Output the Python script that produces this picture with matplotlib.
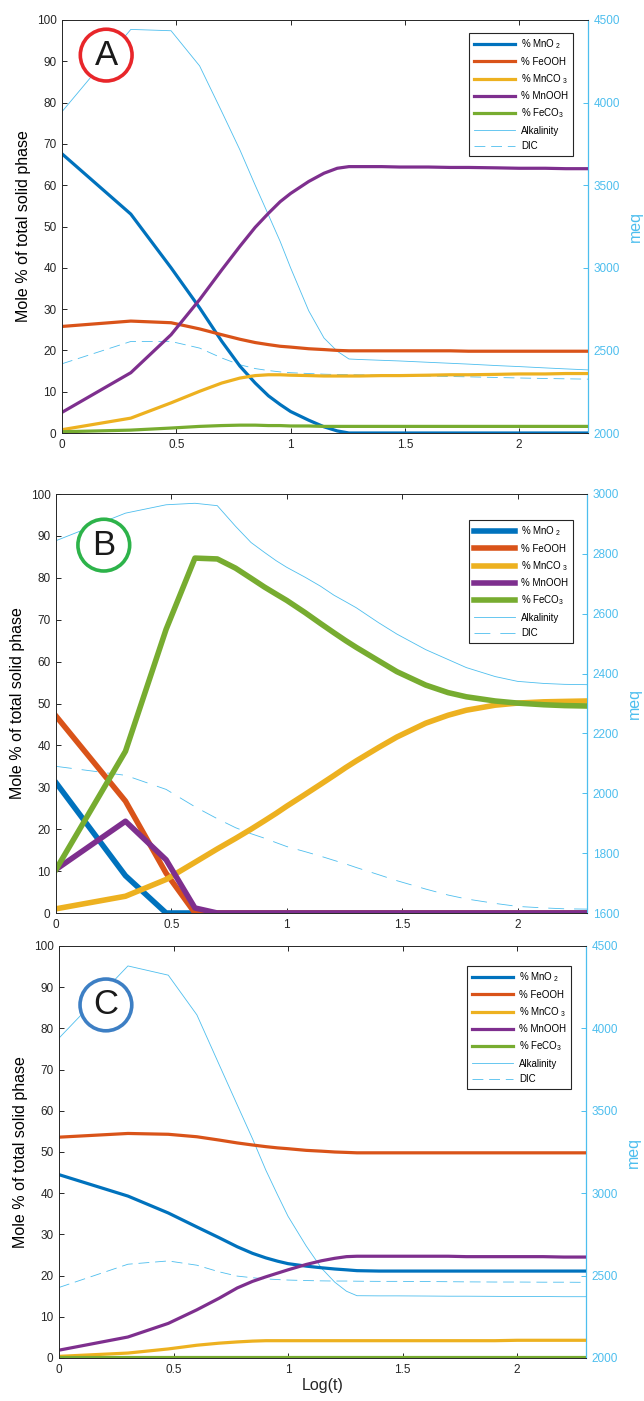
import numpy as np
import matplotlib
matplotlib.use("Agg")
import matplotlib.pyplot as plt

plt.rcParams['font.family'] = ['Liberation Sans', 'DejaVu Sans']
plt.rcParams['mathtext.default'] = 'regular'

# time steps (x axis is log10 of these)
t = [1, 2, 3, 4, 5, 6, 7, 8, 9, 10, 12, 14, 16, 18, 20, 25, 30, 40, 50, 60, 80, 100, 130, 160, 200]

# panel A
a_mno2 = [67.6, 53.0, 40.0, 30.3, 22.2, 16.2, 12.1, 9.0, 6.9, 5.2, 3.1, 1.5, 0.5, 0, 0, 0, 0, 0, 0, 0, 0, 0, 0, 0, 0]
a_feooh = [25.8, 27.1, 26.7, 25.2, 23.8, 22.7, 21.9, 21.4, 21.0, 20.8, 20.4, 20.2, 20.0, 19.9, 19.9, 19.9, 19.9, 19.9, 19.9, 19.8, 19.8, 19.8, 19.8, 19.8, 19.8]
a_mnco3 = [0.8, 3.6, 7.3, 10.1, 12.1, 13.3, 13.9, 14.1, 14.1, 14.0, 13.9, 13.8, 13.8, 13.8, 13.8, 13.9, 13.9, 14.0, 14.1, 14.1, 14.2, 14.3, 14.3, 14.4, 14.4]
a_mnooh = [5.0, 14.6, 23.8, 32.3, 39.5, 45.2, 49.8, 53.2, 56.0, 58.0, 60.9, 62.9, 64.1, 64.5, 64.5, 64.5, 64.4, 64.4, 64.3, 64.3, 64.2, 64.1, 64.1, 64.0, 64.0]
a_feco3 = [0.3, 0.7, 1.2, 1.6, 1.8, 1.9, 1.9, 1.8, 1.8, 1.7, 1.7, 1.6, 1.6, 1.6, 1.6, 1.6, 1.6, 1.6, 1.6, 1.6, 1.6, 1.6, 1.6, 1.6, 1.6]
a_alk = [3945, 4443, 4435, 4222, 3945, 3714, 3500, 3320, 3160, 3000, 2740, 2575, 2495, 2448, 2445, 2440, 2436, 2428, 2422, 2417, 2408, 2402, 2394, 2388, 2382]
a_dic = [2419, 2554, 2554, 2514, 2454, 2413, 2390, 2378, 2370, 2365, 2360, 2356, 2354, 2353, 2352, 2350, 2348, 2345, 2342, 2340, 2336, 2333, 2330, 2328, 2326]

# panel B
b_mno2 = [31.1, 8.9, 0, 0, 0, 0, 0, 0, 0, 0, 0, 0, 0, 0, 0, 0, 0, 0, 0, 0, 0, 0, 0, 0, 0]
b_feooh = [47.0, 26.7, 9.5, 0, 0, 0, 0, 0, 0, 0, 0, 0, 0, 0, 0, 0, 0, 0, 0, 0, 0, 0, 0, 0, 0]
b_mnco3 = [1.0, 4.0, 8.0, 12.1, 15.3, 17.8, 20.0, 22.0, 23.8, 25.5, 28.3, 30.7, 32.8, 34.7, 36.3, 39.5, 42.0, 45.3, 47.2, 48.4, 49.6, 50.1, 50.4, 50.5, 50.6]
b_mnooh = [10.4, 21.9, 12.7, 1.2, 0, 0, 0, 0, 0, 0, 0, 0, 0, 0, 0, 0, 0, 0, 0, 0, 0, 0, 0, 0, 0]
b_feco3 = [10.4, 38.6, 67.7, 84.7, 84.5, 82.3, 79.9, 77.8, 76.1, 74.6, 71.7, 69.1, 66.9, 65.0, 63.4, 60.2, 57.6, 54.4, 52.6, 51.6, 50.6, 50.1, 49.7, 49.5, 49.4]
b_alk = [2844, 2936, 2964, 2969, 2961, 2892, 2838, 2805, 2777, 2755, 2722, 2692, 2662, 2640, 2620, 2570, 2532, 2480, 2447, 2420, 2390, 2374, 2367, 2364, 2363]
b_dic = [2090, 2060, 2013, 1955, 1915, 1885, 1865, 1850, 1835, 1822, 1805, 1790, 1776, 1764, 1752, 1728, 1708, 1680, 1660, 1647, 1632, 1622, 1617, 1614, 1613]

# panel C
c_mno2 = [44.5, 39.3, 35.2, 31.8, 29.2, 27.0, 25.4, 24.3, 23.5, 22.9, 22.3, 21.9, 21.6, 21.4, 21.2, 21.1, 21.1, 21.1, 21.1, 21.1, 21.1, 21.1, 21.1, 21.1, 21.1]
c_feooh = [53.6, 54.5, 54.3, 53.7, 52.9, 52.2, 51.7, 51.3, 51.0, 50.8, 50.4, 50.2, 50.0, 49.9, 49.8, 49.8, 49.8, 49.8, 49.8, 49.8, 49.8, 49.8, 49.8, 49.8, 49.8]
c_mnco3 = [0.4, 1.2, 2.2, 3.1, 3.6, 3.9, 4.1, 4.2, 4.2, 4.2, 4.2, 4.2, 4.2, 4.2, 4.2, 4.2, 4.2, 4.2, 4.2, 4.2, 4.2, 4.3, 4.3, 4.3, 4.3]
c_mnooh = [1.9, 5.1, 8.4, 11.7, 14.5, 17.0, 18.6, 19.7, 20.6, 21.4, 22.7, 23.6, 24.2, 24.6, 24.7, 24.7, 24.7, 24.7, 24.7, 24.6, 24.6, 24.6, 24.6, 24.5, 24.5]
c_feco3 = [0.3] * 25
c_alk = [3941, 4379, 4323, 4082, 3781, 3536, 3330, 3140, 2990, 2860, 2680, 2545, 2460, 2405, 2378, 2377, 2377, 2376, 2375, 2375, 2374, 2373, 2373, 2372, 2372]
c_dic = [2428, 2569, 2589, 2563, 2523, 2497, 2487, 2480, 2476, 2473, 2470, 2468, 2467, 2467, 2466, 2465, 2465, 2464, 2463, 2462, 2461, 2461, 2460, 2460, 2459]

labels = ['% MnO$_{\\ 2}$', '% FeOOH', '% MnCO$_{\\ 3}$', '% MnOOH', '% FeCO$_3$', 'Alkalinity', 'DIC']
colors = ['#0072BD', '#D95319', '#EDB120', '#7E2F8E', '#77AC30']
cyan = '#4DBEEE'
dark = '#262626'

panels = [
    dict(solids=[a_mno2, a_feooh, a_mnco3, a_mnooh, a_feco3], alk=a_alk, dic=a_dic,
         rect=[62/644, 968/1401, 526/644, 413/1401], ylim2=(2000, 4500), step2=500,
         lw=2.3, dash=(13, 7), letter='A', ring='#E8262A', lpos=(0.084, 0.915), leg=(0.981, 0.981)),
    dict(solids=[b_mno2, b_feooh, b_mnco3, b_mnooh, b_feco3], alk=b_alk, dic=b_dic,
         rect=[56/644, 488/1401, 531/644, 419/1401], ylim2=(1600, 3000), step2=200,
         lw=4.0, dash=(19, 12), letter='B', ring='#2DB34A', lpos=(0.09, 0.878), leg=(0.983, 0.95)),
    dict(solids=[c_mno2, c_feooh, c_mnco3, c_mnooh, c_feco3], alk=c_alk, dic=c_dic,
         rect=[59/644, 43/1401, 527/644, 412/1401], ylim2=(2000, 4500), step2=500,
         lw=2.3, dash=(13, 7), letter='C', ring='#3D7FC4', lpos=(0.089, 0.857), leg=(0.981, 0.964)),
]

x = np.log10(t)
fig = plt.figure(figsize=(6.44, 14.01), dpi=100)

for i, p in enumerate(panels):
    ax = fig.add_axes(p['rect'])
    ax2 = ax.twinx()
    ax.set_zorder(ax2.get_zorder() + 1)
    ax.patch.set_visible(False)

    handles = []
    for vals, col in zip(p['solids'], colors):
        h, = ax.plot(x, vals, color=col, lw=p['lw'], solid_joinstyle='round')
        handles.append(h)
    h1, = ax2.plot(x, p['alk'], color=cyan, lw=0.6)
    h2, = ax2.plot(x, p['dic'], color=cyan, lw=0.6, ls=(0, p['dash']))
    handles += [h1, h2]

    ax.set_xlim(0, np.log10(200))
    ax.set_ylim(0, 100)
    ax.set_xticks([0, 0.5, 1, 1.5, 2])
    ax.set_xticklabels(['0', '0.5', '1', '1.5', '2'])
    ax.set_yticks(range(0, 101, 10))
    ax2.set_ylim(*p['ylim2'])
    ax2.set_yticks(range(p['ylim2'][0], p['ylim2'][1] + 1, p['step2']))

    ax.tick_params(direction='in', top=True, right=False, length=3.5, width=0.7,
                   labelsize=8.5, colors=dark, pad=4)
    ax2.tick_params(axis='y', direction='in', length=3.5, width=0.7, labelsize=8.5,
                    colors=cyan, pad=4)
    for s in ['left', 'top', 'bottom']:
        ax.spines[s].set_color(dark)
        ax.spines[s].set_linewidth(0.7)
        ax2.spines[s].set_visible(False)
    ax.spines['right'].set_visible(False)
    ax2.spines['right'].set_color(cyan)
    ax2.spines['right'].set_linewidth(0.9)

    ax.set_ylabel('Mole % of total solid phase', fontsize=11.5, color='black', labelpad=4)
    ax2.set_ylabel('meq', fontsize=11.5, color=cyan, labelpad=6)
    if i == 2:
        ax.set_xlabel('Log(t)', fontsize=11.5, color=dark, labelpad=2)

    leg = ax.legend(handles, labels, loc='upper right', bbox_to_anchor=p['leg'],
                    fontsize=7, handlelength=4.2, labelspacing=0.55, handletextpad=0.6,
                    borderpad=0.5, fancybox=False, framealpha=1, edgecolor=dark)
    leg.get_frame().set_linewidth(0.8)

    ax.text(p['lpos'][0], p['lpos'][1], p['letter'], transform=ax.transAxes,
            fontsize=25, ha='center', va='center', color='#1a1a1a', zorder=10,
            bbox=dict(boxstyle='circle,pad=0.27', fc='white', ec=p['ring'], lw=2.6))

fig.savefig('out.png', dpi=100)
